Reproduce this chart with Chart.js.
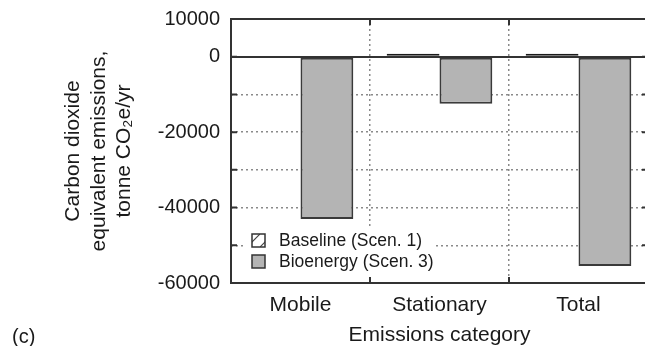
<!DOCTYPE html>
<html>
<head>
<meta charset="utf-8">
<style>
  html, body { margin: 0; padding: 0; background: #fff; overflow: hidden; }
  #wrap { position: relative; width: 645px; height: 346px; overflow: hidden; }
  #panel { position: absolute; left: 12px; top: 325px; font: 20px "Liberation Sans", Arial, sans-serif; color: #1a1a1a; }
</style>
</head>
<body>
<div id="wrap">
  <canvas id="emissionsChart" width="650" height="346"></canvas>
  <div id="panel">(c)</div>
</div>
<script src="https://cdn.jsdelivr.net/npm/chart.js"></script>
<script>
    const categories = ['Mobile', 'Stationary', 'Total'];
    const baseline = [0, 800, 800];                 // Baseline (Scen. 1)
    const bioenergy = [-43000, -12500, -55500];     // Bioenergy (Scen. 3)
    const labeledTicks = [10000, 0, -20000, -40000, -60000];

    Chart.defaults.font.family = '"Liberation Sans", Arial, sans-serif';
    Chart.defaults.color = '#1a1a1a';

    // diagonal hatch for the baseline bars
    const hatchCanvas = document.createElement('canvas');
    hatchCanvas.width = 13;
    hatchCanvas.height = 13;
    const hc = hatchCanvas.getContext('2d');
    hc.fillStyle = '#fff';
    hc.fillRect(0, 0, 13, 13);
    hc.strokeStyle = '#444';
    hc.lineWidth = 1.2;
    hc.beginPath();
    hc.moveTo(0, 13);
    hc.lineTo(13, 0);
    hc.stroke();
    const ctx = document.getElementById('emissionsChart').getContext('2d');
    const hatch = ctx.createPattern(hatchCanvas, 'repeat');

    // frame, inner tick marks and the in-plot legend
    const framePlugin = {
        id: 'frame',
        afterDraw(chart) {
            const c = chart.ctx;
            const a = chart.chartArea;
            c.save();
            c.strokeStyle = '#333';
            c.lineWidth = 2;
            c.strokeRect(a.left, a.top, a.right - a.left, a.bottom - a.top);

            // short inward tick marks
            const y = chart.scales.y;
            y.ticks.forEach(t => {
                const py = y.getPixelForValue(t.value);
                c.beginPath();
                c.moveTo(a.left, py); c.lineTo(a.left + 6, py);
                c.moveTo(a.right, py); c.lineTo(a.right - 6, py);
                c.stroke();
            });
            const x = chart.scales.x;
            for (let i = 1; i < categories.length; i++) {
                const px = (x.getPixelForValue(i - 1) + x.getPixelForValue(i)) / 2;
                c.beginPath();
                c.moveTo(px, a.bottom); c.lineTo(px, a.bottom - 6);
                c.moveTo(px, a.top); c.lineTo(px, a.top + 6);
                c.stroke();
            }

            // legend
            const lx = a.left + 15;
            const ly = a.bottom - 57;
            c.fillStyle = '#fff';
            c.fillRect(lx, ly, 188, 50);
            c.font = '17.5px "Liberation Sans", Arial, sans-serif';
            c.textBaseline = 'middle';
            chart.data.datasets.forEach((ds, i) => {
                const by = ly + 8 + i * 21;
                c.fillStyle = ds.backgroundColor;
                c.fillRect(lx + 6, by, 13, 13);
                c.strokeStyle = '#333';
                c.lineWidth = 1.5;
                c.strokeRect(lx + 6, by, 13, 13);
                c.fillStyle = '#1a1a1a';
                c.fillText(ds.label, lx + 33, by + 7);
            });
            c.restore();
        }
    };

    new Chart(ctx, {
        type: 'bar',
        data: {
            labels: categories,
            datasets: [
                {
                    label: 'Baseline (Scen. 1)',
                    data: baseline,
                    backgroundColor: hatch,
                    borderColor: '#1a1a1a',
                    borderWidth: 2,
                    borderSkipped: false,
                    categoryPercentage: 0.76,
                    barPercentage: 1.0
                },
                {
                    label: 'Bioenergy (Scen. 3)',
                    data: bioenergy,
                    backgroundColor: '#b4b4b4',
                    borderColor: '#3a3a3a',
                    borderWidth: 2,
                    borderSkipped: false,
                    categoryPercentage: 0.76,
                    barPercentage: 1.0
                }
            ]
        },
        options: {
            responsive: false,
            animation: false,
            layout: { padding: { top: 19, right: 2, left: 0, bottom: 0 } },
            plugins: {
                legend: { display: false },
                tooltip: { enabled: false }
            },
            scales: {
                x: {
                    grid: {
                        offset: true,
                        drawTicks: false,
                        color: '#8a8a8a',
                        lineWidth: 1.5
                    },
                    border: { display: false, dash: [2, 3] },
                    ticks: { font: { size: 21 }, padding: 10 },
                    title: {
                        display: true,
                        text: 'Emissions category',
                        font: { size: 21, lineHeight: 1.0 },
                        padding: 0
                    },
                    afterFit: s => { s.height = 63; }
                },
                y: {
                    min: -60000,
                    max: 10000,
                    grid: {
                        drawTicks: false,
                        color: c => (c.tick && c.tick.value === 0) ? '#333' : '#8a8a8a',
                        lineWidth: c => (c.tick && c.tick.value === 0) ? 2 : 1.5
                    },
                    border: {
                        display: false,
                        dash: c => (c.tick && c.tick.value === 0) ? [] : [2, 3]
                    },
                    ticks: {
                        stepSize: 10000,
                        padding: 11,
                        font: { size: 20, lineHeight: 0.8 },
                        callback: v => labeledTicks.includes(v) ? String(v) : ''
                    },
                    title: {
                        display: true,
                        text: ['Carbon dioxide', 'equivalent emissions,', 'tonne CO\u2082e/yr'],
                        font: { size: 21, lineHeight: 1.2 },
                        padding: { top: 61, bottom: 0 }
                    },
                    afterFit: s => { s.width = 231; }
                }
            }
        },
        plugins: [framePlugin]
    });
</script>
</body>
</html>
